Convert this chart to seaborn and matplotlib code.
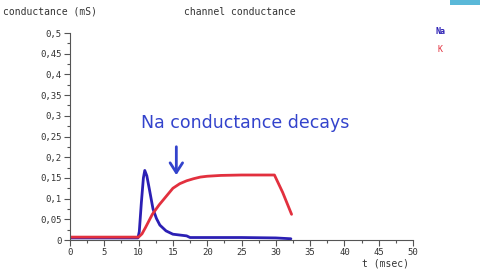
import matplotlib
matplotlib.use("Agg")
import matplotlib.pyplot as plt
import seaborn as sns
import pandas as pd
from matplotlib.ticker import MultipleLocator
from matplotlib.patches import Rectangle

# Data
na_t = [0, 9.9, 10.1, 10.4, 10.7, 10.9, 11.2, 11.6, 12.1, 12.6, 13.1, 14.0, 15.0, 16.0, 17.0, 17.5, 20, 25, 30, 32.2]
na_g = [0.005, 0.005, 0.02, 0.09, 0.15, 0.168, 0.155, 0.12, 0.075, 0.052, 0.036, 0.022, 0.014, 0.012, 0.010, 0.006, 0.006, 0.006, 0.005, 0.003]
k_t = [0, 10.0, 10.5, 11, 12, 13, 14, 15, 16, 17, 18, 19, 20, 22, 25, 29.8, 31, 32.3]
k_g = [0.007, 0.007, 0.015, 0.03, 0.062, 0.085, 0.105, 0.125, 0.136, 0.143, 0.148, 0.152, 0.154, 0.156, 0.157, 0.157, 0.115, 0.062]
y_ticks = [0, 0.05, 0.1, 0.15, 0.2, 0.25, 0.3, 0.35, 0.4, 0.45, 0.5]
y_labels = ["0", "0,05", "0,1", "0,15", "0,2", "0,25", "0,3", "0,35", "0,4", "0,45", "0,5"]
x_ticks = [0, 5, 10, 15, 20, 25, 30, 35, 40, 45, 50]

df = pd.concat([
    pd.DataFrame({"t": na_t, "g": na_g, "ion": "Na"}),
    pd.DataFrame({"t": k_t, "g": k_g, "ion": "K"}),
])

sns.set_style("white")
plt.rcParams['font.family'] = ['DejaVu Sans Mono', 'DejaVu Sans']

fig = plt.figure(figsize=(4.8, 2.7), dpi=100)
ax = fig.add_axes([70/480, 30/270, 343/480, 207/270])

na_col = "#2b1fb4"
k_col = "#e2303e"
sns.lineplot(data=df, x="t", y="g", hue="ion", palette={"Na": na_col, "K": k_col},
             estimator=None, sort=False, linewidth=2, legend=False, ax=ax)

ax.set_xlim(0, 50)
ax.set_ylim(0, 0.5)
ax.set_xlabel("")
ax.set_ylabel("")
ax.set_xticks(x_ticks)
ax.set_xticklabels([str(v) for v in x_ticks])
ax.set_yticks(y_ticks)
ax.set_yticklabels(y_labels)
ax.xaxis.set_minor_locator(MultipleLocator(2.5))
ax.yaxis.set_minor_locator(MultipleLocator(0.025))
ax.tick_params(axis="both", which="major", length=4, width=0.8, color="#555555",
               labelsize=6.5, labelcolor="#333333", pad=2, direction="out",
               bottom=True, left=True)
ax.tick_params(axis="both", which="minor", length=2.5, width=0.8, color="#555555",
               bottom=True, left=True, direction="out")
for s in ["top", "right"]:
    ax.spines[s].set_visible(False)
for s in ["left", "bottom"]:
    ax.spines[s].set_color("#555555")
    ax.spines[s].set_linewidth(0.8)

# Titles / labels
fig.text(3/480, 1 - 12/270, "conductance (mS)", fontsize=7, color="#333333", va="center", ha="left")
fig.text(240/480, 1 - 12/270, "channel conductance", fontsize=7, color="#333333", va="center", ha="center")
fig.text(386/480, 1 - 264/270, "t (msec)", fontsize=7, color="#333333", va="center", ha="center")
fig.text(436/480, 1 - 32/270, "Na", fontsize=6, color=na_col, va="center", ha="left", fontweight="bold")
fig.text(438/480, 1 - 49/270, "K", fontsize=6, color=k_col, va="center", ha="left")

# Annotation
ann_col = "#3343cc"
fig.text(245/480, 1 - 123/270, "Na conductance decays", fontsize=12.5, color=ann_col,
         va="center", ha="center", family=["DejaVu Sans"])
ax.annotate("", xy=(15.5, 0.15), xytext=(15.5, 0.232),
            arrowprops=dict(arrowstyle="->,head_length=0.7,head_width=0.45", color=ann_col, lw=2))

# small cyan logo bar top-right
fig.patches.append(Rectangle((450/480, 1 - 5/270), 30/480, 5/270, transform=fig.transFigure,
                             facecolor="#5ab8d8", edgecolor="none"))

fig.savefig("out.png", dpi=100)
